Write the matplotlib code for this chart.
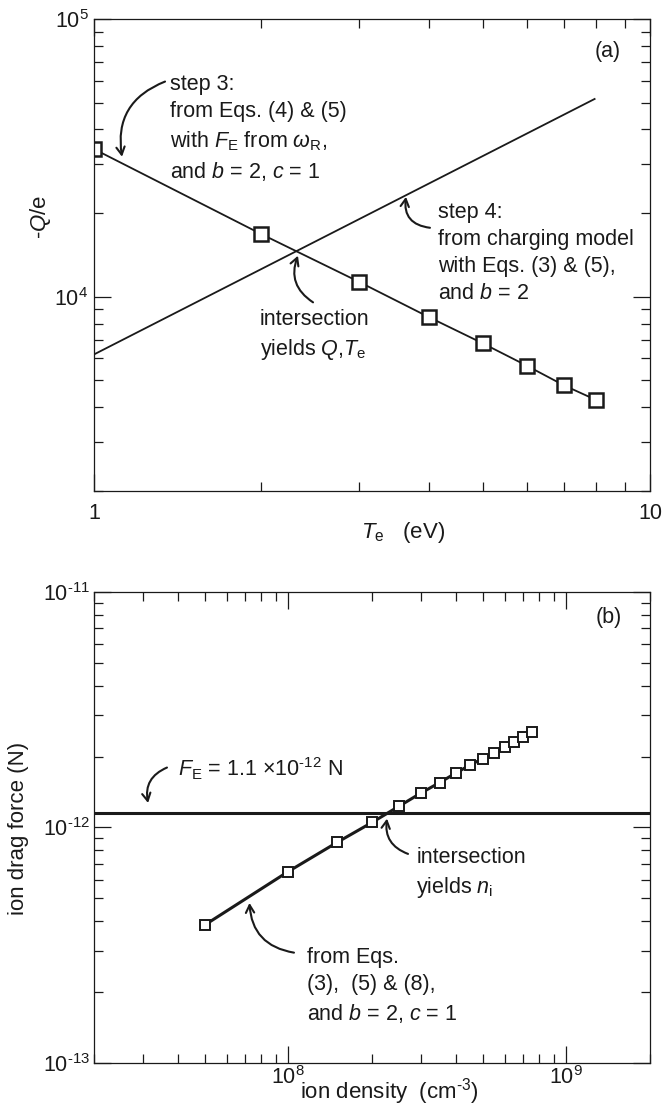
import matplotlib.pyplot as plt
import numpy as np
from matplotlib.ticker import NullFormatter

plt.rcParams['font.family'] = ['Liberation Sans', 'DejaVu Sans']
plt.rcParams['mathtext.fontset'] = 'custom'
plt.rcParams['mathtext.rm'] = 'Liberation Sans'
plt.rcParams['mathtext.it'] = 'Liberation Sans:italic'
plt.rcParams['mathtext.bf'] = 'Liberation Sans:bold'

# (a) charge vs electron temperature
te = [1, 2, 3, 4, 5, 6, 7, 8]
q_step3 = [34000, 16800, 11300, 8450, 6800, 5650, 4800, 4250]
te_charging = [1.0, 7.95]
q_charging = [6200, 51500]

# (b) ion drag force vs ion density
ni = [5e7, 1e8, 1.5e8, 2e8, 2.5e8, 3e8, 3.5e8, 4e8, 4.5e8, 5e8,
      5.5e8, 6e8, 6.5e8, 7e8, 7.5e8]
f_drag = [3.85e-13, 6.5e-13, 8.65e-13, 1.05e-12, 1.23e-12, 1.40e-12,
          1.55e-12, 1.70e-12, 1.84e-12, 1.96e-12, 2.08e-12, 2.19e-12,
          2.31e-12, 2.43e-12, 2.55e-12]
f_e = 1.15e-12

ink = '#1a1a1a'
fs_txt = 15.5
ls_txt = 1.39
fs_lab = 16

fig = plt.figure(figsize=(6.63, 11.12), dpi=100)
ax1 = fig.add_axes([0.1418, 0.5585, 0.8386, 0.4245])
ax2 = fig.add_axes([0.1418, 0.0441, 0.8386, 0.4236])


def style(ax):
    ax.set_xscale('log')
    ax.set_yscale('log')
    ax.tick_params(which='both', direction='in', top=True, right=True,
                   color=ink, labelcolor=ink, width=0.9)
    ax.tick_params(which='major', length=12, labelsize=15.5)
    ax.tick_params(which='minor', length=6.5)
    ax.xaxis.set_minor_formatter(NullFormatter())
    ax.yaxis.set_minor_formatter(NullFormatter())
    for s in ax.spines.values():
        s.set_linewidth(0.9)
        s.set_color(ink)


# ---- panel (a)
style(ax1)
ax1.plot(te, q_step3, '-', color=ink, lw=1.3, marker='s', ms=9.5,
         mfc='white', mec=ink, mew=1.8)
ax1.plot(te_charging, q_charging, '-', color=ink, lw=1.3)
ax1.set_xlim(1, 10)
ax1.set_ylim(2000, 1e5)
ax1.set_xticks([1, 10], ['1', '10'])
ax1.set_yticks([1e4, 1e5], [r'$10^{4}$', r'$10^{5}$'])
ax1.tick_params(axis='x', which='major', pad=9)
ax1.tick_params(axis='y', which='major', pad=4)
ax1.set_ylabel(r'-$Q$/e', fontsize=fs_lab, color=ink, va='center')
ax1.yaxis.set_label_coords(-0.097, 0.58)
ax1.set_xlabel(r'$T_{\rm e}$   (eV)', fontsize=fs_lab, color=ink)
ax1.xaxis.set_label_coords(0.556, -0.087)
ax1.xaxis.label.set_va('center')
ax1.text(0.924, 0.93, '(a)', transform=ax1.transAxes, fontsize=15.5,
         ha='center', va='center', color=ink)

arr = dict(arrowstyle='->,head_length=0.55,head_width=0.3', color=ink,
           lw=1.5, shrinkA=0, shrinkB=0)

ax1.text(1.37, 63500, 'step 3:\nfrom Eqs. (4) & (5)\n'
         r'with $F_{\rm E}$ from $\omega_{\rm R}$,' '\n'
         r'and $b$ = 2, $c$ = 1',
         fontsize=fs_txt, va='top', ha='left', color=ink, linespacing=ls_txt)
ax1.annotate('', xy=(1.123, 31900), xytext=(1.342, 59500),
             arrowprops=dict(arr, connectionstyle='arc3,rad=0.4'))

ax1.text(4.156, 21970, 'step 4:\nfrom charging model\n'
         'with Eqs. (3) & (5),\n' r'and $b$ = 2',
         fontsize=fs_txt, va='top', ha='left', color=ink, linespacing=ls_txt)
ax1.annotate('', xy=(3.64, 22890), xytext=(4.02, 17710),
             arrowprops=dict(arr, connectionstyle='arc3,rad=-0.5'))

ax1.text(1.989, 9000, 'intersection\n' r'yields $Q$,$T_{\rm e}$',
         fontsize=fs_txt, va='top', ha='left', color=ink, linespacing=ls_txt)
ax1.annotate('', xy=(2.327, 14050), xytext=(2.477, 9547),
             arrowprops=dict(arr, connectionstyle='arc3,rad=-0.4'))

# ---- panel (b)
style(ax2)
ax2.axhline(f_e, color=ink, lw=2.2)
ax2.plot(ni, f_drag, '-', color=ink, lw=2.2, marker='s', ms=7.6,
         mfc='white', mec=ink, mew=1.4)
ax2.set_xlim(2e7, 2e9)
ax2.set_ylim(1e-13, 1e-11)
ax2.set_xticks([1e8, 1e9], [r'$10^{8}$', r'$10^{9}$'])
ax2.set_yticks([1e-13, 1e-12, 1e-11],
               [r'$10^{\text{-}13}$', r'$10^{\text{-}12}$',
                r'$10^{\text{-}11}$'])
ax2.tick_params(axis='x', which='major', pad=2)
ax2.tick_params(axis='y', which='major', pad=3)
ax2.set_ylabel('ion drag force (N)', fontsize=fs_lab, color=ink, va='center')
ax2.yaxis.set_label_coords(-0.135, 0.497)
ax2.set_xlabel(r'ion density  (cm$^{\text{-}3}$)', fontsize=fs_lab, color=ink)
ax2.xaxis.set_label_coords(0.531, -0.0616)
ax2.xaxis.label.set_va('center')
ax2.text(0.926, 0.945, '(b)', transform=ax2.transAxes, fontsize=15.5,
         ha='center', va='center', color=ink)

ax2.text(4.01e7, 1.655e-12,
         r'$F_{\rm E}$ = 1.1 $\times$10$^{\text{-}12}$ N',
         fontsize=fs_txt, va='baseline', ha='left', color=ink)
ax2.annotate('', xy=(3.13e7, 1.27e-12), xytext=(3.66e7, 1.796e-12),
             arrowprops=dict(arr, connectionstyle='arc3,rad=0.4'))

ax2.text(2.89e8, 8.26e-13, 'intersection\n' r'yields $n_{\rm i}$',
         fontsize=fs_txt, va='top', ha='left', color=ink, linespacing=ls_txt)
ax2.annotate('', xy=(2.265e8, 1.09e-12), xytext=(2.695e8, 7.72e-13),
             arrowprops=dict(arr, connectionstyle='arc3,rad=-0.4'))

ax2.text(1.163e8, 3.11e-13, 'from Eqs.\n(3),  (5) & (8),\n'
         r'and $b$ = 2, $c$ = 1',
         fontsize=fs_txt, va='top', ha='left', color=ink, linespacing=ls_txt)
ax2.annotate('', xy=(7.25e7, 4.78e-13), xytext=(1.048e8, 2.94e-13),
             arrowprops=dict(arr, connectionstyle='arc3,rad=-0.4'))

fig.savefig('out.png', dpi=100)
